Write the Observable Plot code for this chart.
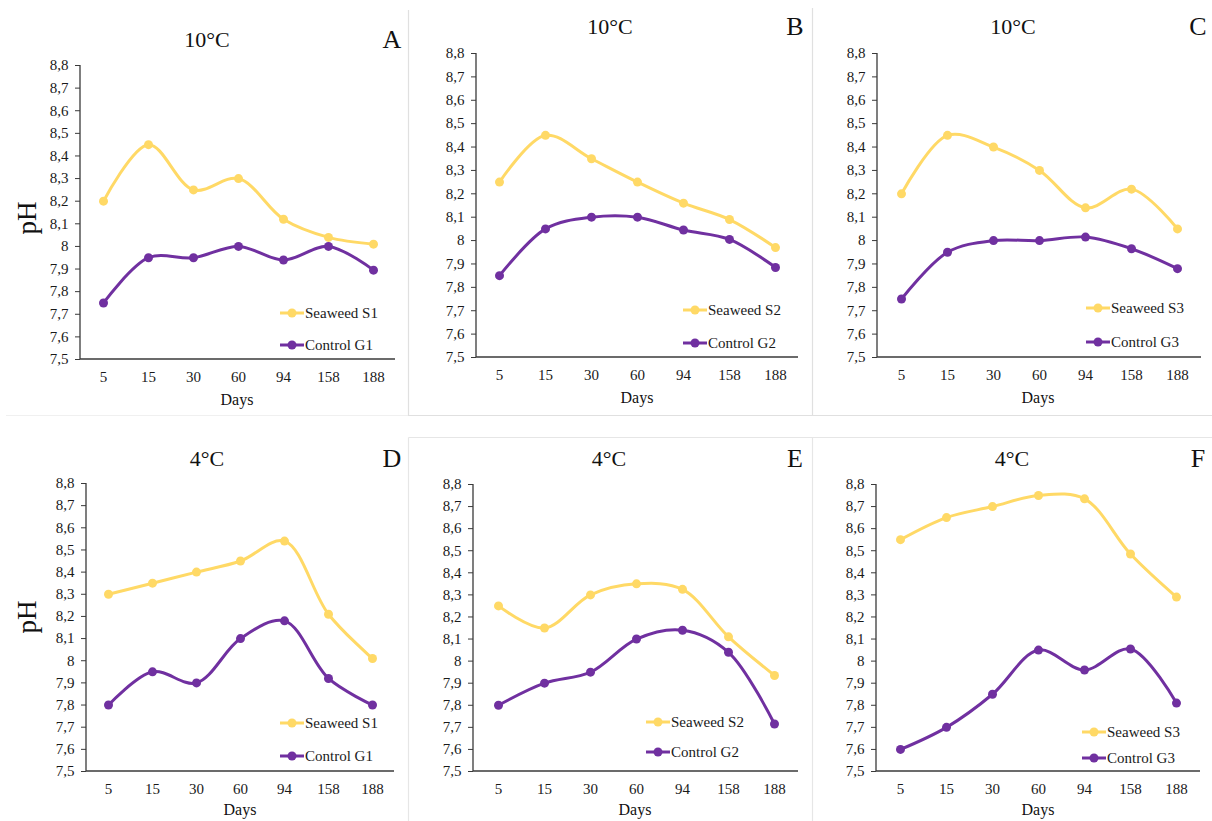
<!DOCTYPE html>
<html>
<head>
<meta charset="utf-8">
<script src="https://cdn.jsdelivr.net/npm/d3@7"></script>
<script src="https://cdn.jsdelivr.net/npm/@observablehq/plot@0.6"></script>
<style>
  html, body { margin: 0; padding: 0; background: #fff; }
  #root { position: relative; width: 1212px; height: 821px; background: #fff; font-family: "Liberation Serif", "DejaVu Serif", serif; color: #111; overflow: hidden; }
  #root svg text { font-family: "Liberation Serif", "DejaVu Serif", serif !important; font-size: 15px; fill: #1a1a1a; }
  .abs { position: absolute; white-space: nowrap; font-family: "Liberation Serif", serif; }
  .c { transform: translate(-50%, -50%); }
</style>
</head>
<body>
<div id="root"></div>
<script>
// ---------------- data ----------------
const days = ["5", "15", "30", "60", "94", "158", "188"];
const yTicks = [7.5, 7.6, 7.7, 7.8, 7.9, 8.0, 8.1, 8.2, 8.3, 8.4, 8.5, 8.6, 8.7, 8.8];

const panelLetters = ["A", "B", "C", "D", "E", "F"];
const panelTitles = ["10°C", "10°C", "10°C", "4°C", "4°C", "4°C"];
const seaweedNames = ["Seaweed S1", "Seaweed S2", "Seaweed S3", "Seaweed S1", "Seaweed S2", "Seaweed S3"];
const controlNames = ["Control G1", "Control G2", "Control G3", "Control G1", "Control G2", "Control G3"];

const seaweedA = [8.20, 8.45, 8.25, 8.30, 8.12, 8.04, 8.01];
const controlA = [7.75, 7.95, 7.95, 8.00, 7.94, 8.00, 7.895];
const seaweedB = [8.25, 8.45, 8.35, 8.25, 8.16, 8.09, 7.97];
const controlB = [7.85, 8.05, 8.10, 8.10, 8.045, 8.005, 7.885];
const seaweedC = [8.20, 8.45, 8.40, 8.30, 8.14, 8.22, 8.05];
const controlC = [7.75, 7.95, 8.00, 8.00, 8.015, 7.965, 7.88];
const seaweedD = [8.30, 8.35, 8.40, 8.45, 8.54, 8.21, 8.01];
const controlD = [7.80, 7.95, 7.90, 8.10, 8.18, 7.92, 7.80];
const seaweedE = [8.25, 8.15, 8.30, 8.35, 8.325, 8.11, 7.935];
const controlE = [7.80, 7.90, 7.95, 8.10, 8.14, 8.04, 7.715];
const seaweedF = [8.55, 8.65, 8.70, 8.75, 8.735, 8.485, 8.29];
const controlF = [7.60, 7.70, 7.85, 8.05, 7.96, 8.055, 7.81];

const seaweedSeries = [seaweedA, seaweedB, seaweedC, seaweedD, seaweedE, seaweedF];
const controlSeries = [controlA, controlB, controlC, controlD, controlE, controlF];

// ---------------- style / layout ----------------
const YELLOW = "#FFD966";
const PURPLE = "#7030A0";
const AXIS = "#3a3a3a";

// frame geometry per panel (pixels in page)
const layout = [
  { ax: 80,  xe: 395,  yt: 65,  yb: 359, title: [207, 40],   letter: [392, 40],   days: [237, 400], ph: [27, 218], leg: [280, 313, 345] },
  { ax: 476, xe: 798,  yt: 53,  yb: 357, title: [610, 27],   letter: [795, 27],   days: [637, 398], ph: null,      leg: [683, 310, 343] },
  { ax: 877, xe: 1201, yt: 53,  yb: 357, title: [1013, 27],  letter: [1198, 27],  days: [1038, 398], ph: null,     leg: [1086, 308, 342] },
  { ax: 86,  xe: 394,  yt: 483, yb: 771, title: [207, 459],  letter: [392, 459],  days: [240, 810], ph: [27, 617], leg: [280, 723, 756] },
  { ax: 473, xe: 798,  yt: 484, yb: 771, title: [609, 459],  letter: [795, 459],  days: [635, 810], ph: null,      leg: [646, 722, 752] },
  { ax: 876, xe: 1200, yt: 484, yb: 771, title: [1012, 459], letter: [1198, 459], days: [1038, 810], ph: null,     leg: [1082, 732, 758] }
];

const root = document.getElementById("root");

// faint panel borders
const borderSvg = d3.create("svg").attr("width", 1212).attr("height", 821)
  .style("position", "absolute").style("left", "0px").style("top", "0px");
const borderLines = [
  [408.5, 10, 408.5, 415.5, "#e0e0e0"], [812.5, 8, 812.5, 415.5, "#e0e0e0"],
  [6, 415.5, 408, 415.5, "#f0f0f0"],
  [408, 415.5, 1212, 415.5, "#e0e0e0"],
  [408.5, 437.5, 1212, 437.5, "#e6e6e6"],
  [408.5, 437.5, 408.5, 821, "#e6e6e6"], [812.5, 437.5, 812.5, 821, "#e6e6e6"]
];
borderSvg.selectAll("line").data(borderLines).join("line")
  .attr("x1", d => d[0]).attr("y1", d => d[1]).attr("x2", d => d[2]).attr("y2", d => d[3])
  .attr("stroke", d => d[4]).attr("stroke-width", 1.2);
root.appendChild(borderSvg.node());

const fmt = v => String(Math.round(v * 10) / 10).replace(".", ",");

function addText(txt, x, y, size, extra = {}) {
  const d = document.createElement("div");
  d.className = "abs c";
  d.textContent = txt;
  d.style.left = x + "px";
  d.style.top = y + "px";
  d.style.fontSize = size + "px";
  Object.assign(d.style, extra);
  root.appendChild(d);
  return d;
}

function addLegendRow(x, y, color, label) {
  const wrap = document.createElement("div");
  wrap.className = "abs";
  wrap.style.left = x + "px";
  wrap.style.top = (y - 10) + "px";
  wrap.style.height = "20px";
  wrap.style.display = "flex";
  wrap.style.alignItems = "center";
  const s = d3.create("svg").attr("width", 24).attr("height", 20);
  s.append("line").attr("x1", 0).attr("x2", 24).attr("y1", 10).attr("y2", 10)
    .attr("stroke", color).attr("stroke-width", 3);
  s.append("circle").attr("cx", 12).attr("cy", 10).attr("r", 4.5).attr("fill", color);
  wrap.appendChild(s.node());
  const t = document.createElement("span");
  t.textContent = label;
  t.style.fontSize = "15px";
  t.style.marginLeft = "1px";
  t.style.color = "#1a1a1a";
  wrap.appendChild(t);
  root.appendChild(wrap);
}

layout.forEach((L, i) => {
  const rows = [];
  days.forEach((d, j) => {
    rows.push({ day: d, ph: seaweedSeries[i][j], series: seaweedNames[i], grp: "s" });
    rows.push({ day: d, ph: controlSeries[i][j], series: controlNames[i], grp: "c" });
  });
  const mL = 60, mR = 10, mT = 20, mB = 34;
  const W = (L.xe - L.ax) + mL + mR;
  const H = (L.yb - L.yt) + mT + mB;

  const axesMark = (index, scales, values, dim) => {
    const g = d3.create("svg:g");
    const x0 = dim.marginLeft, x1 = dim.width - dim.marginRight;
    const y0 = dim.marginTop, y1 = dim.height - dim.marginBottom;
    g.append("line").attr("x1", x0).attr("x2", x0).attr("y1", y0).attr("y2", y1)
      .attr("stroke", AXIS).attr("stroke-width", 1.3);
    g.append("line").attr("x1", x0).attr("x2", x1).attr("y1", y1).attr("y2", y1)
      .attr("stroke", AXIS).attr("stroke-width", 1.3);
    return g.node();
  };

  const chart = Plot.plot({
    width: W,
    height: H,
    marginLeft: mL, marginRight: mR, marginTop: mT, marginBottom: mB,
    style: { fontFamily: "'Liberation Serif', serif", fontSize: "15px", color: "#1a1a1a", background: "transparent", overflow: "visible" },
    x: { type: "point", domain: days, padding: 0.5, label: null },
    y: { domain: [7.5, 8.8], label: null },
    marks: [
      Plot.axisY({ ticks: yTicks, tickFormat: fmt, tickSize: 5, tickPadding: 7, stroke: AXIS, label: null, fontFamily: "Liberation Serif" }),
      Plot.axisX({ tickSize: 0, tickPadding: 12, label: null, fontFamily: "Liberation Serif" }),
      axesMark,
      Plot.line(rows, { x: "day", y: "ph", z: "grp", stroke: d => d.grp === "s" ? YELLOW : PURPLE, strokeWidth: 3, curve: "catmull-rom" }),
      Plot.dot(rows, { x: "day", y: "ph", r: 4.5, fill: d => d.grp === "s" ? YELLOW : PURPLE })
    ]
  });
  chart.style.position = "absolute";
  chart.style.left = (L.ax - mL) + "px";
  chart.style.top = (L.yt - mT) + "px";
  root.appendChild(chart);

  addText(panelTitles[i], L.title[0], L.title[1], 22);
  addText(panelLetters[i], L.letter[0], L.letter[1], 26, { fontWeight: "normal" });
  addText("Days", L.days[0], L.days[1], 16);
  if (L.ph) addText("pH", L.ph[0], L.ph[1], 27, { transform: "translate(-50%, -50%) rotate(-90deg)" });
  addLegendRow(L.leg[0], L.leg[1], YELLOW, seaweedNames[i]);
  addLegendRow(L.leg[0], L.leg[2], PURPLE, controlNames[i]);
});
</script>
</body>
</html>
